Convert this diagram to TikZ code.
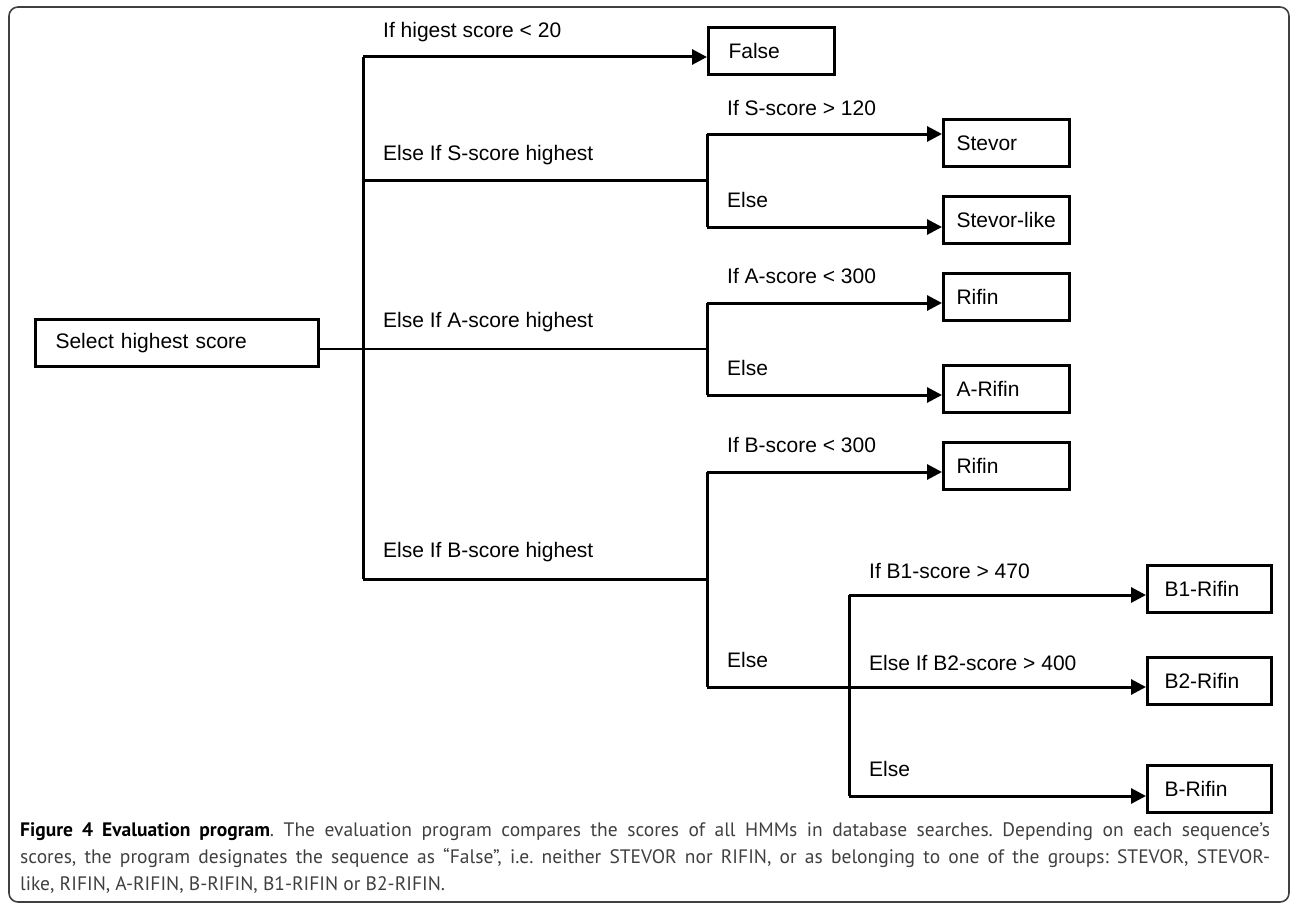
\documentclass[tikz,border=0pt]{standalone}
\usepackage{fontspec}
\setmainfont{Liberation Sans}
\newfontfamily\capfont{PT Sans}
\usetikzlibrary{arrows.meta}

\begin{document}
\begin{tikzpicture}[x=1pt,y=-1pt]
  \tikzset{box/.style = {shape=rectangle,draw,line width=3pt,minimum height=47pt,text width=100pt,inner xsep=13pt,align=left,anchor=north west,font=\fontsize{21}{25}\selectfont}}
  \tikzset{cond/.style = {anchor=west,inner sep=0pt,font=\fontsize{21}{25}\selectfont}}
  \tikzset{wire/.style = {line width=3pt}}
  \tikzset{arr/.style = {wire,-{Triangle[length=15pt,width=15pt]}}}
  \useasboundingbox (0,0) rectangle (1290,907);
  \draw[rounded corners=9pt,line width=1.6pt,black!75] (9,7) rectangle (1289,902);

	\node[box,text width=243pt,inner xsep=20pt] (sel) at (34,318) {Select highest score};
	\node[box,inner xsep=20pt,text width=86pt] (false) at (707,26) {False};
	\node[box] (stevor) at (942,118) {Stevor};
	\node[box] (stevorl) at (942,195) {Stevor-like};
	\node[box] (rifina) at (942,272) {Rifin};
	\node[box] (arifin) at (942,364) {A-Rifin};
	\node[box] (rifinb) at (942,441) {Rifin};
	\node[box,inner xsep=17pt,text width=90pt] (bone) at (1146,564) {B1-Rifin};
	\node[box,inner xsep=17pt,text width=90pt] (btwo) at (1146,656) {B2-Rifin};
	\node[box,inner xsep=17pt,text width=90pt] (brifin) at (1146,764) {B-Rifin};

	\coordinate (t0) at (363,57);
	\coordinate (t1) at (363,180);
	\coordinate (t2) at (363,349);
	\coordinate (t3) at (363,579);
	\coordinate (s0) at (707,134);
	\coordinate (s1) at (707,180);
	\coordinate (s2) at (707,227);
	\coordinate (a0) at (707,303);
	\coordinate (a1) at (707,349);
	\coordinate (a2) at (707,395);
	\coordinate (b0) at (707,472);
	\coordinate (b1) at (707,579);
	\coordinate (b2) at (707,687);
	\coordinate (c0) at (849,595);
	\coordinate (c2) at (849,796);

	\node[cond] (lfalse) at (383,32) {If higest score < 20};
	\node[cond] (ls) at (383,155) {Else If S-score highest};
	\node[cond] (la) at (383,322) {Else If A-score highest};
	\node[cond] (lb) at (383,552) {Else If B-score highest};
	\node[cond] (ls0) at (727,108) {If S-score > 120};
	\node[cond] (ls2) at (727,200) {Else};
	\node[cond] (la0) at (727,276) {If A-score < 300};
	\node[cond] (la2) at (727,368) {Else};
	\node[cond] (lb0) at (727,445) {If B-score < 300};
	\node[cond] (lb2) at (727,660) {Else};
	\node[cond] (lc0) at (869,571) {If B1-score > 470};
	\node[cond] (lc1) at (869,663) {Else If B2-score > 400};
	\node[cond] (lc2) at (869,769) {Else};

	\draw[wire] (t0) -- (t3);
	\draw[wire,line width=2.4pt] (sel.east |- t2) -- (a1);
	\foreach \from/\to in {t1/s1,t3/b1,s0/s2,a0/a2,b0/b2,c0/c2}
	\draw[wire] (\from) -- (\to);
	\foreach \from/\to in {t0/false,s0/stevor,s2/stevorl,a0/rifina,a2/arifin,b0/rifinb,b2/btwo,c0/bone,c2/brifin}
	\draw[arr] (\from) -- (\from -| \to.west);

	\node[anchor=north west,inner sep=0pt,text width=1250pt,align=justify,text=black!75,
	  font=\capfont\fontsize{19.5}{27}\selectfont\frenchspacing] (cap) at (20,822)
	  {{\bfseries\color{black}Figure 4 Evaluation program}. The evaluation program compares the scores of all HMMs in database searches. Depending on each sequence’s\linebreak scores, the program designates the sequence as “False”, i.e. neither STEVOR nor RIFIN, or as belonging to one of the groups: STEVOR, STEVOR-\linebreak like, RIFIN, A-RIFIN, B-RIFIN, B1-RIFIN or B2-RIFIN.};
\end{tikzpicture}
\end{document}
